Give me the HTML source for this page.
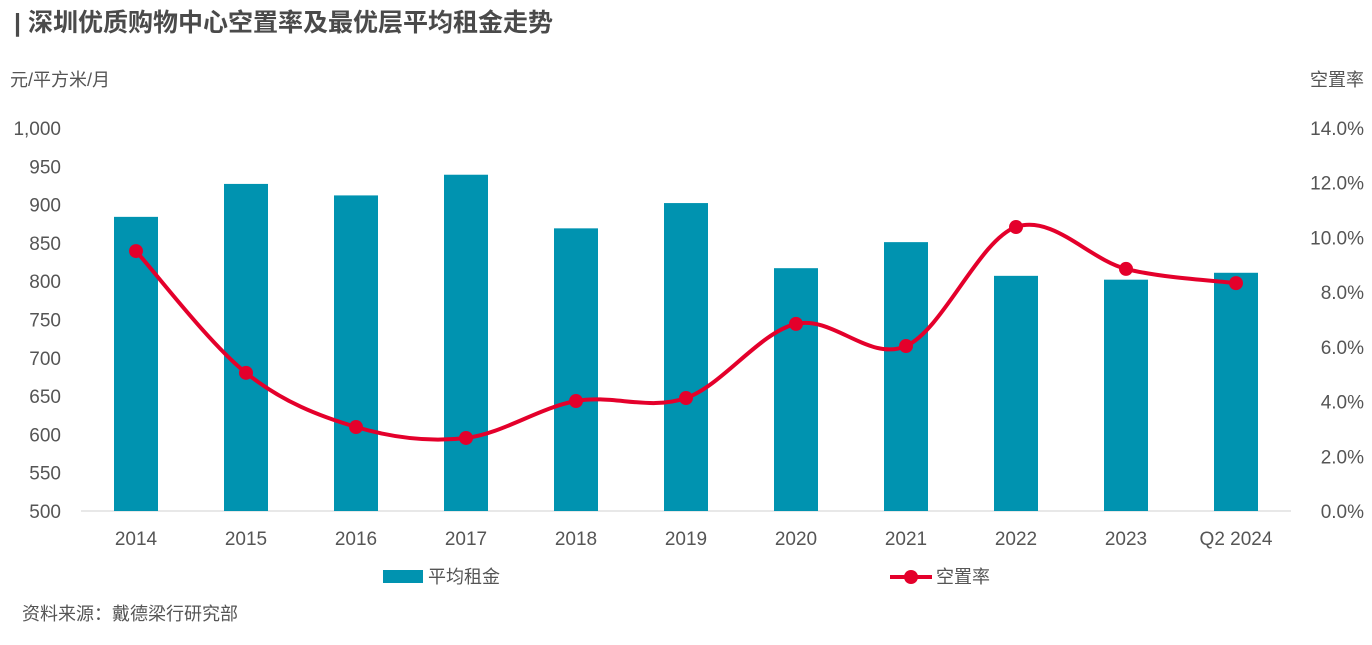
<!DOCTYPE html>
<html><head><meta charset="utf-8"><style>
body{margin:0;background:#fff;font-family:"Liberation Sans","Noto Sans CJK SC",sans-serif;}
svg text{font-family:"Liberation Sans","Noto Sans CJK SC",sans-serif;fill:#555;}
</style></head><body>
<svg width="1372" height="640">
<text x="14" y="31" font-size="25" font-weight="bold" style="fill:#4a4a4a">| 深圳优质购物中心空置率及最优层平均租金走势</text>
<text x="10" y="86" font-size="18">元/平方米/月</text>
<text x="1364" y="86" font-size="18" text-anchor="end">空置率</text>
<g id="g"></g>
<rect x="383" y="570" width="40" height="13" fill="#0093b0"/>
<text x="428" y="583" font-size="18">平均租金</text>
<line x1="890" y1="577" x2="932" y2="577" stroke="#e4002b" stroke-width="4"/>
<circle cx="911" cy="577" r="7" fill="#e4002b"/>
<text x="936" y="583" font-size="18">空置率</text>
<text x="22" y="620" font-size="18">资料来源：戴德梁行研究部</text>
</svg>
<script>
const categories=["2014","2015","2016","2017","2018","2019","2020","2021","2022","2023","Q2 2024"];
const rent=[884,927,912,939,869,902,817,851,807,802,811];
const vacancy=[9.5,5.05,3.07,2.67,4.02,4.13,6.84,6.03,10.38,8.85,8.33];
const leftTicks=[500,550,600,650,700,750,800,850,900,950,1000];
const rightTicks=[0,2,4,6,8,10,12,14];
const NS="http://www.w3.org/2000/svg";
const g=document.getElementById('g');
const x0=81,step=110,yB=511,yT=128;
const yL=v=>yB-(v-500)/500*(yB-yT);
const yR=v=>yB-v/14*(yB-yT);
const xc=i=>x0+step*(i+0.5);
function mk(t,a){const e=document.createElementNS(NS,t);for(const k in a)e.setAttribute(k,a[k]);g.appendChild(e);return e;}
let ax=mk('line',{x1:x0,y1:yB,x2:x0+step*11,y2:yB,stroke:'#d0d0d0','stroke-width':1});


leftTicks.forEach(v=>{const t=mk('text',{x:61,y:yL(v)+7,'font-size':19,'text-anchor':'end'});t.textContent=v.toLocaleString('en-US');

});
rightTicks.forEach(v=>{const t=mk('text',{x:1364,y:yR(v)+7,'font-size':19,'text-anchor':'end'});t.textContent=v.toFixed(1)+'%';

});
categories.forEach((c,i)=>{
const r=mk('rect',{x:xc(i)-22,y:yL(rent[i]),width:44,height:yB-yL(rent[i]),fill:'#0093b0'});


const t=mk('text',{x:xc(i),y:545,'font-size':19,'text-anchor':'middle'});t.textContent=c;


});
const P=vacancy.map((v,i)=>[xc(i),yR(v)]);
let d='M'+P[0][0]+','+P[0][1];
for(let i=0;i<P.length-1;i++){const p0=P[i-1]||P[i],p1=P[i],p2=P[i+1],p3=P[i+2]||p2;
d+=` C${p1[0]+(p2[0]-p0[0])/6},${p1[1]+(p2[1]-p0[1])/6} ${p2[0]-(p3[0]-p1[0])/6},${p2[1]-(p3[1]-p1[1])/6} ${p2[0]},${p2[1]}`;}
const ln=mk('path',{d:d,fill:'none',stroke:'#e4002b','stroke-width':4});


P.forEach((p,i)=>{const c=mk('circle',{cx:p[0],cy:p[1],r:7,fill:'#e4002b'});

});
</script>
</body></html>
